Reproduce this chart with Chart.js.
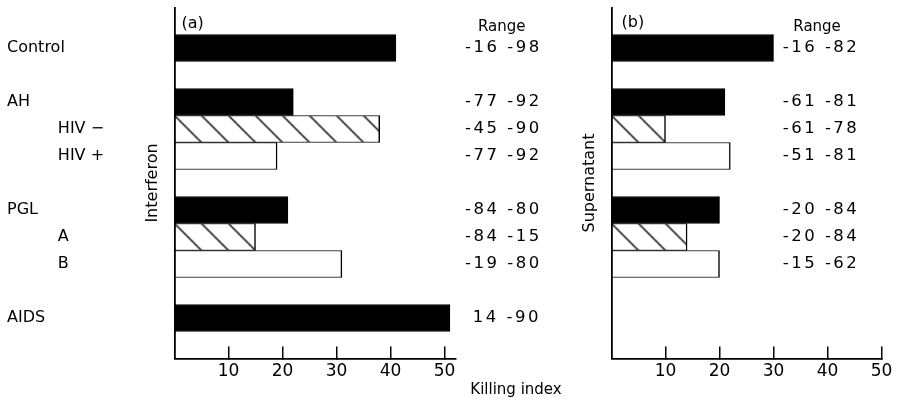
<!DOCTYPE html>
<html>
<head>
<meta charset="utf-8">
<title>Killing index</title>
<script src="https://cdn.jsdelivr.net/npm/chart.js@4.4.1/dist/chart.umd.min.js"></script>
<style>
  html, body { margin: 0; background: #fff; }
  #wrap { position: relative; width: 899px; height: 403px; overflow: hidden; background: #fff; }
  canvas { position: absolute; top: 0; }
  #panelA { left: 0; }
  #panelB { left: 575px; }
</style>
</head>
<body>
<div id="wrap">
  <canvas id="panelA" width="575" height="403"></canvas>
  <canvas id="panelB" width="324" height="403"></canvas>
</div>
<script>
/* DATA (blank rows are the gaps between groups) */
const groups = ["", "Control", "", "AH", "HIV \u2212", "HIV +", "", "PGL", "A", "B", "", "AIDS", ""];
const subRows = ["HIV \u2212", "HIV +", "A", "B"];
const fillKind = [null, "solid", null, "solid", "hatch", "open", null, "solid", "hatch", "open", null, "solid", null];

const interferon  = [null, 41, null, 22, 38, 19, null, 21, 15, 31, null, 51, null];
const supernatant = [null, 30, null, 21, 10, 22, null, 20, 14, 20, null, null, null];

const rangeA = ["", "-16 -98", "", "-77 -92", "-45 -90", "-77 -92", "", "-84 -80", "-84 -15", "-19 -80", "", " 14 -90", ""];
const rangeB = ["", "-16 -82", "", "-61 -81", "-61 -78", "-51 -81", "", "-20 -84", "-20 -84", "-15 -62", "", "", ""];

const xTicks = [10, 20, 30, 40, 50];

Chart.defaults.font.family = "'DejaVu Sans', sans-serif";
Chart.defaults.color = "#000";

/* HATCH */
function hatchPattern(ctx) {
  const s = 27;
  const tile = document.createElement("canvas");
  tile.width = s;
  tile.height = s;
  const t = tile.getContext("2d");
  t.fillStyle = "#fff";
  t.fillRect(0, 0, s, s);
  t.strokeStyle = "#000";
  t.lineWidth = 1.4;
  [-s, 0, s].forEach(o => {
    t.beginPath();
    t.moveTo(o - 2, -2);
    t.lineTo(o + s + 2, s + 2);
    t.stroke();
  });
  return ctx.createPattern(tile, "repeat");
}

/* extra text: panel letter, Range header, axis name */
function textPlugin(items) {
  return {
    id: "panelText",
    afterDraw(chart) {
      const c = chart.ctx;
      c.save();
      c.fillStyle = "#000";
      c.textBaseline = "alphabetic";
      items.forEach(t => {
        c.font = t.size + "px 'DejaVu Sans'";
        c.textAlign = t.align || "left";
        c.fillText(t.text, t.x(chart), t.y);
      });
      c.restore();
    }
  };
}

/* range column drawn with wider letter spacing */
const spacedRange = {
  id: "spacedRange",
  afterLayout(chart) {
    const s = chart.scales.yr;
    if (!s || s.$spaced) return;
    const draw = s.drawLabels;
    s.drawLabels = function (area) {
      chart.ctx.save();
      chart.ctx.letterSpacing = "2.5px";
      draw.call(this, area);
      chart.ctx.restore();
    };
    s.$spaced = true;
  }
};

function fixBox(w, h) {
  return ax => {
    if (w !== null) ax.width = w;
    if (h !== null) ax.height = h;
    ax.paddingTop = 0;
    ax.paddingBottom = 0;
    ax.paddingLeft = 0;
    ax.paddingRight = 0;
  };
}

function panel(id, values, ranges, opts) {
  const canvas = document.getElementById(id);
  const ctx = canvas.getContext("2d");
  const hatch = hatchPattern(ctx);
  const colors = fillKind.map(k => k === "solid" ? "#000" : k === "hatch" ? hatch : "#fff");

  const alignHatch = {
    id: "alignHatch",
    beforeDatasetsDraw(chart) {
      const y = chart.scales.y;
      const row = y.height / groups.length;
      const top = y.getPixelForValue(groups.indexOf("HIV \u2212")) - row / 2;
      hatch.setTransform(new DOMMatrix().translate(chart.chartArea.left, top));
    }
  };

  const scales = {
    x: {
      type: "linear",
      min: 0,
      max: opts.xMax,
      afterBuildTicks: ax => { ax.ticks = xTicks.map(v => ({ value: v })); },
      ticks: { font: { size: 17 }, color: "#000", padding: 15, maxRotation: 0 },
      grid: { drawOnChartArea: false, tickLength: -12, color: "#000", lineWidth: 1.5 },
      border: { color: "#000", width: 1.8, z: 1 },
      afterFit: fixBox(null, 44.5)
    },
    y: {
      type: "category",
      position: "left",
      weight: 0,
      offset: true,
      ticks: { display: false },
      grid: { display: false, drawTicks: false },
      border: { color: "#000", width: 1.8, z: 1 },
      title: {
        display: true,
        text: opts.title,
        color: "#000",
        font: { size: 16 },
        padding: { top: opts.titlePad, bottom: 0 }
      },
      afterFit: fixBox(opts.titleWidth, null)
    },
    yr: {
      type: "category",
      position: opts.rangeSide,
      weight: -1,
      offset: true,
      grid: { display: false, drawTicks: false },
      border: { display: false },
      ticks: {
        color: "#000",
        font: { size: 16.5 },
        padding: opts.rangePad,
        mirror: opts.rangeSide === "left",
        autoSkip: false,
        callback: (v, i) => ranges[i]
      },
      afterFit: fixBox(opts.rangeWidth, null)
    }
  };

  if (opts.rowLabels) {
    scales.yl = {
      type: "category",
      position: "left",
      weight: 1,
      offset: true,
      grid: { display: false, drawTicks: false },
      border: { display: false },
      ticks: {
        color: "#000",
        font: { size: 16 },
        crossAlign: "far",
        padding: 0,
        autoSkip: false,
        callback: (v, i) => (subRows.includes(groups[i]) ? "          " : "") + groups[i]
      },
      afterFit: fixBox(opts.labelWidth, null)
    };
  }

  return new Chart(ctx, {
    type: "bar",
    data: {
      labels: groups,
      datasets: [{
        data: values,
        backgroundColor: colors,
        borderColor: "#000",
        borderWidth: { top: 1, right: 1.5, bottom: 1, left: 0 },
        borderSkipped: false,
        barPercentage: 1,
        categoryPercentage: 1
      }]
    },
    options: {
      indexAxis: "y",
      responsive: false,
      animation: false,
      layout: { padding: { left: opts.padLeft, top: 7.5, right: opts.padRight, bottom: 0 } },
      plugins: { legend: { display: false }, tooltip: { enabled: false } },
      scales
    },
    plugins: [alignHatch, spacedRange, textPlugin(opts.texts)]
  });
}

/* (a) INTERFERON */
panel("panelA", interferon, rangeA, {
  xMax: 52,
  title: "Interferon",
  titlePad: 3.4,
  titleWidth: 34.5,
  labelWidth: 133,
  padLeft: 7,
  padRight: 0,
  rowLabels: true,
  rangeSide: "right",
  rangePad: 9.7,
  rangeWidth: 119.7,
  texts: [
    { text: "(a)", size: 16, y: 27.5, x: c => c.chartArea.left + 7 },
    { text: "Range", size: 15, y: 31, x: c => c.chartArea.right + 22.7 },
    { text: "Killing index", size: 15, y: 393.5, align: "center", x: () => 516 }
  ]
});

/* (b) SUPERNATANT */
panel("panelB", supernatant, rangeB, {
  xMax: 50,
  title: "Supernatant",
  titlePad: 5.4,
  titleWidth: 36.5,
  padLeft: 0,
  padRight: 17.5,
  rowLabels: false,
  rangeSide: "left",
  rangePad: 171.2,
  rangeWidth: 0,
  texts: [
    { text: "(b)", size: 16, y: 26.5, x: c => c.chartArea.left + 10 },
    { text: "Range", size: 15, y: 31, x: c => c.chartArea.right - 88.2 }
  ]
});
</script>
</body>
</html>
